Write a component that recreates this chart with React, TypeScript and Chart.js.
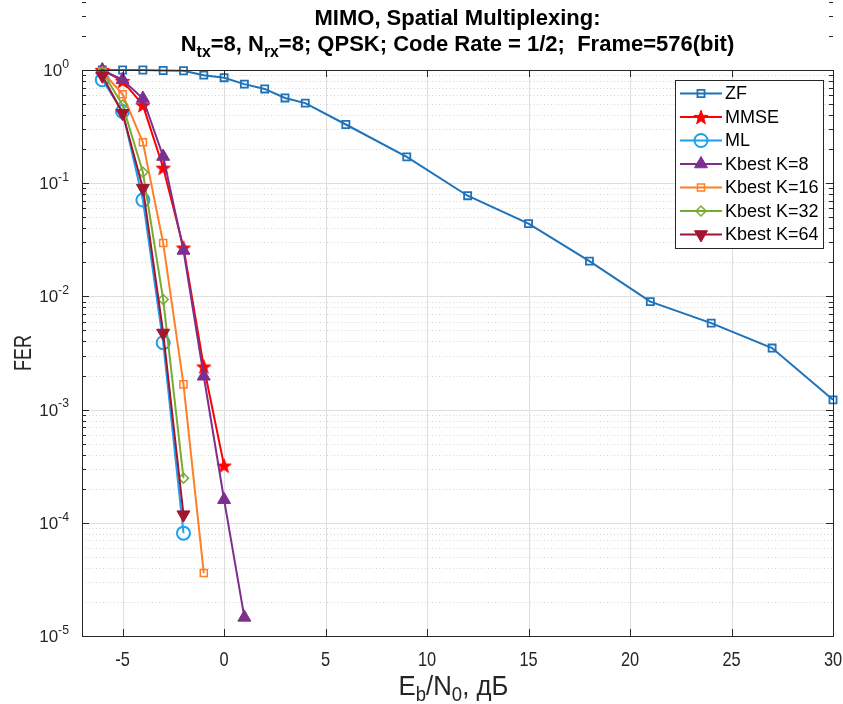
import { useEffect, useRef } from 'react';
import { Chart, registerables } from 'chart.js';
import { drawPoint } from 'chart.js/helpers';

Chart.register(...registerables);

// ---- data ----
const snrZF = [-6, -5, -4, -3, -2, -1, 0, 1, 2, 3, 4, 6, 9, 12, 15, 18, 21, 24, 27, 30];
const ferZF = [1.0, 1.0, 1.0, 0.99, 0.985, 0.9, 0.855, 0.75, 0.68, 0.566, 0.51, 0.33, 0.171, 0.0775, 0.044, 0.0205, 0.009, 0.0058, 0.0035, 0.00122];
const snrMMSE = [-6, -5, -4, -3, -2, -1, 0];
const ferMMSE = [1.0, 0.8, 0.49, 0.137, 0.027, 0.0024, 0.00032];
const snrML = [-6, -5, -4, -3, -2];
const ferML = [0.82, 0.43, 0.071, 0.0039, 0.000081];
const snrK8 = [-6, -5, -4, -3, -2, -1, 0, 1];
const ferK8 = [1.0, 0.82, 0.56, 0.172, 0.0255, 0.00197, 0.00016, 0.0000146];
const snrK16 = [-6, -5, -4, -3, -2, -1];
const ferK16 = [0.97, 0.61, 0.23, 0.0296, 0.00167, 0.000036];
const snrK32 = [-6, -5, -4, -3, -2];
const ferK32 = [0.97, 0.49, 0.125, 0.0094, 0.000248];
const snrK64 = [-6, -5, -4, -3, -2];
const ferK64 = [0.89, 0.415, 0.0904, 0.00475, 0.000118];

const seriesNames = ['ZF', 'MMSE', 'ML', 'Kbest K=8', 'Kbest K=16', 'Kbest K=32', 'Kbest K=64'];
const xTicks = [-5, 0, 5, 10, 15, 20, 25, 30];
const yDecades = [0, -1, -2, -3, -4, -5];
const xMin = -7;
const xMax = 30;

const FONT = '"Liberation Sans", Arial, Helvetica, sans-serif';
const AXIS_COLOR = '#262626';

type Seg = { t: string; k?: 'sub' | 'sup' };

function drawRich(
  ctx: CanvasRenderingContext2D,
  segs: Seg[],
  x: number,
  y: number,
  size: number,
  weight: string,
  align: 'left' | 'center' | 'right',
  sx = 1,
  color = '#000',
  subDrop = 0.3
) {
  const small = size * 0.72;
  ctx.save();
  ctx.textBaseline = 'alphabetic';
  ctx.textAlign = 'left';
  const widths = segs.map((s) => {
    ctx.font = `${weight} ${s.k ? small : size}px ${FONT}`;
    return ctx.measureText(s.t).width;
  });
  const total = widths.reduce((a, b) => a + b, 0) * sx;
  const start = align === 'center' ? x - total / 2 : align === 'right' ? x - total : x;
  ctx.translate(start, y);
  ctx.scale(sx, 1);
  ctx.fillStyle = color;
  let cx = 0;
  segs.forEach((s, i) => {
    ctx.font = `${weight} ${s.k ? small : size}px ${FONT}`;
    const dy = s.k === 'sub' ? size * subDrop : s.k === 'sup' ? -size * 0.48 : 0;
    ctx.fillText(s.t, cx, dy);
    cx += widths[i];
  });
  ctx.restore();
}

function makeStar(r: number, color: string) {
  const s = Math.ceil(2 * r + 3);
  const c = document.createElement('canvas');
  c.width = s;
  c.height = s;
  const g = c.getContext('2d')!;
  g.translate(s / 2, s / 2 + r * 0.1);
  g.beginPath();
  for (let i = 0; i < 10; i++) {
    const rr = i % 2 === 0 ? r : r * 0.4;
    const a = -Math.PI / 2 + (i * Math.PI) / 5;
    g.lineTo(rr * Math.cos(a), rr * Math.sin(a));
  }
  g.closePath();
  g.fillStyle = color;
  g.fill();
  g.strokeStyle = color;
  g.lineWidth = 1;
  g.stroke();
  return c;
}

const pts = (xs: number[], ys: number[]) => xs.map((x, i) => ({ x, y: ys[i] }));

export default function App() {
  const ref = useRef<HTMLCanvasElement | null>(null);

  useEffect(() => {
    if (!ref.current) return;
    const star = makeStar(7.5, '#ff0000');

    const styles = [
      { color: '#1f72b8', pointStyle: 'rect', radius: 5, fill: 'rgba(0,0,0,0)', bw: 1.8, rot: 0 },
      { color: '#ff0000', pointStyle: star, radius: 7.5, fill: '#ff0000', bw: 1, rot: 0 },
      { color: '#1e9ff0', pointStyle: 'circle', radius: 6.5, fill: 'rgba(0,0,0,0)', bw: 2, rot: 0 },
      { color: '#7e2f8e', pointStyle: 'triangle', radius: 7.5, fill: '#7e2f8e', bw: 1, rot: 0 },
      { color: '#ff7f27', pointStyle: 'rect', radius: 5, fill: 'rgba(0,0,0,0)', bw: 1.5, rot: 0 },
      { color: '#77ac30', pointStyle: 'rectRot', radius: 5, fill: 'rgba(0,0,0,0)', bw: 1.5, rot: 0 },
      { color: '#a2142f', pointStyle: 'triangle', radius: 7.5, fill: '#a2142f', bw: 1, rot: 180 },
    ];
    const dataSets = [
      pts(snrZF, ferZF),
      pts(snrMMSE, ferMMSE),
      pts(snrML, ferML),
      pts(snrK8, ferK8),
      pts(snrK16, ferK16),
      pts(snrK32, ferK32),
      pts(snrK64, ferK64),
    ];

    const decorPlugin = {
      id: 'matlabDecor',
      beforeDatasetsDraw(chart: any) {
        const ctx: CanvasRenderingContext2D = chart.ctx;
        const { left, right, top, bottom } = chart.chartArea;
        const xs = chart.scales.x;
        const ys = chart.scales.y;
        ctx.save();
        ctx.lineWidth = 1;
        ctx.strokeStyle = '#d4d4d4';
        ctx.setLineDash([1, 2.5]);
        yDecades.forEach((d) => {
          if (d === 0) return;
          for (let k = 2; k <= 9; k++) {
            const y = Math.round(ys.getPixelForValue(k * Math.pow(10, d))) + 0.5;
            ctx.beginPath();
            ctx.moveTo(left, y);
            ctx.lineTo(right, y);
            ctx.stroke();
          }
        });
        ctx.setLineDash([]);
        ctx.strokeStyle = '#dedede';
        yDecades.forEach((d) => {
          const y = Math.round(ys.getPixelForValue(Math.pow(10, d))) + 0.5;
          ctx.beginPath();
          ctx.moveTo(left, y);
          ctx.lineTo(right, y);
          ctx.stroke();
        });
        xTicks.forEach((t) => {
          const x = Math.round(xs.getPixelForValue(t)) + 0.5;
          ctx.beginPath();
          ctx.moveTo(x, top);
          ctx.lineTo(x, bottom);
          ctx.stroke();
        });
        ctx.restore();
      },
      afterDraw(chart: any) {
        const ctx: CanvasRenderingContext2D = chart.ctx;
        const { left, right, top, bottom } = chart.chartArea;
        const xs = chart.scales.x;
        const ys = chart.scales.y;
        ctx.save();
        ctx.strokeStyle = AXIS_COLOR;
        ctx.lineWidth = 1;
        ctx.strokeRect(Math.round(left) + 0.5, Math.round(top) + 0.5, Math.round(right - left), Math.round(bottom - top));
        ctx.beginPath();
        xTicks.forEach((t) => {
          const x = Math.round(xs.getPixelForValue(t)) + 0.5;
          ctx.moveTo(x, bottom);
          ctx.lineTo(x, bottom - 7);
          ctx.moveTo(x, top);
          ctx.lineTo(x, top + 7);
        });
        yDecades.forEach((d) => {
          const y = Math.round(ys.getPixelForValue(Math.pow(10, d))) + 0.5;
          ctx.moveTo(left, y);
          ctx.lineTo(left + 7, y);
          ctx.moveTo(right, y);
          ctx.lineTo(right - 7, y);
          if (d === -5) return;
          for (let k = 2; k <= 9; k++) {
            const ym = Math.round(ys.getPixelForValue(k * Math.pow(10, d))) + 0.5;
            ctx.moveTo(left, ym);
            ctx.lineTo(left + 4, ym);
            ctx.moveTo(right, ym);
            ctx.lineTo(right - 4, ym);
          }
        });
        ctx.stroke();
        ctx.restore();

        // x tick labels
        xTicks.forEach((t) => {
          const x = xs.getPixelForValue(t);
          drawRich(ctx, [{ t: String(t) }], x, 666, 21, 'normal', 'center', 0.78, AXIS_COLOR);
        });
        // y tick labels
        yDecades.forEach((d) => {
          const y = ys.getPixelForValue(Math.pow(10, d));
          drawRich(ctx, [{ t: '10' }, { t: String(d), k: 'sup' }], 69, y + 6, 17, 'normal', 'right', 1, AXIS_COLOR);
        });
        // axis titles
        drawRich(
          ctx,
          [{ t: 'E' }, { t: 'b', k: 'sub' }, { t: '/N' }, { t: '0', k: 'sub' }, { t: ', дБ' }],
          (left + right) / 2 - 4,
          695,
          28,
          'normal',
          'center',
          0.92,
          AXIS_COLOR,
          0.2
        );
        ctx.save();
        ctx.translate(31, (top + bottom) / 2);
        ctx.rotate(-Math.PI / 2);
        drawRich(ctx, [{ t: 'FER' }], 0, 0, 24, 'normal', 'center', 0.75, AXIS_COLOR);
        ctx.restore();
        // title
        drawRich(ctx, [{ t: 'MIMO, Spatial Multiplexing:' }], (left + right) / 2, 25, 22, 'bold', 'center', 1, '#000');
        drawRich(
          ctx,
          [
            { t: 'N' },
            { t: 'tx', k: 'sub' },
            { t: '=8, N' },
            { t: 'rx', k: 'sub' },
            { t: '=8; QPSK; Code Rate = 1/2;  Frame=576(bit)' },
          ],
          (left + right) / 2,
          51,
          22,
          'bold',
          'center',
          1,
          '#000',
          0.25
        );

        // legend
        const lx0 = 675, ly0 = 80, lx1 = 823, ly1 = 248;
        ctx.save();
        ctx.fillStyle = '#ffffff';
        ctx.fillRect(lx0, ly0, lx1 - lx0, ly1 - ly0);
        ctx.strokeStyle = AXIS_COLOR;
        ctx.lineWidth = 1;
        ctx.strokeRect(lx0 + 0.5, ly0 + 0.5, lx1 - lx0, ly1 - ly0);
        seriesNames.forEach((name, i) => {
          const st = styles[i];
          const y = 93.5 + i * 23.5;
          ctx.strokeStyle = st.color;
          ctx.lineWidth = 2;
          ctx.beginPath();
          ctx.moveTo(680, y);
          ctx.lineTo(722, y);
          ctx.stroke();
          ctx.fillStyle = st.fill;
          ctx.strokeStyle = st.color;
          ctx.lineWidth = st.bw;
          drawPoint(ctx, { pointStyle: st.pointStyle as any, radius: st.radius, rotation: st.rot, borderWidth: st.bw } as any, 701, y);
          ctx.fillStyle = '#000';
          ctx.font = `normal 18px ${FONT}`;
          ctx.textBaseline = 'middle';
          ctx.textAlign = 'left';
          ctx.fillText(name, 725, y + 1);
        });
        ctx.restore();
      },
    };

    const chart = new Chart(ref.current, {
      type: 'line',
      data: {
        datasets: dataSets.map((d, i) => ({
          label: seriesNames[i],
          data: d,
          borderColor: styles[i].color,
          backgroundColor: styles[i].fill,
          borderWidth: 2,
          pointStyle: styles[i].pointStyle as any,
          pointRadius: styles[i].radius,
          pointRotation: styles[i].rot,
          pointBorderWidth: styles[i].bw,
          pointBorderColor: styles[i].color,
          pointBackgroundColor: styles[i].fill,
          fill: false,
          tension: 0,
          clip: false as any,
          order: seriesNames.length - i,
        })),
      },
      options: {
        animation: false,
        responsive: true,
        maintainAspectRatio: false,
        events: [],
        layout: { padding: { left: 82, top: 70, right: 10, bottom: 68 } },
        scales: {
          x: { type: 'linear', min: xMin, max: xMax, display: false },
          y: { type: 'logarithmic', min: 1e-5, max: 1, display: false },
        },
        plugins: {
          legend: { display: false },
          tooltip: { enabled: false },
          title: { display: false },
        },
      },
      plugins: [decorPlugin],
    });
    return () => chart.destroy();
  }, []);

  return (
    <div style={{ position: 'absolute', left: 0, top: 0, width: 843, height: 704, background: '#fff' }}>
      <canvas ref={ref} />
    </div>
  );
}
